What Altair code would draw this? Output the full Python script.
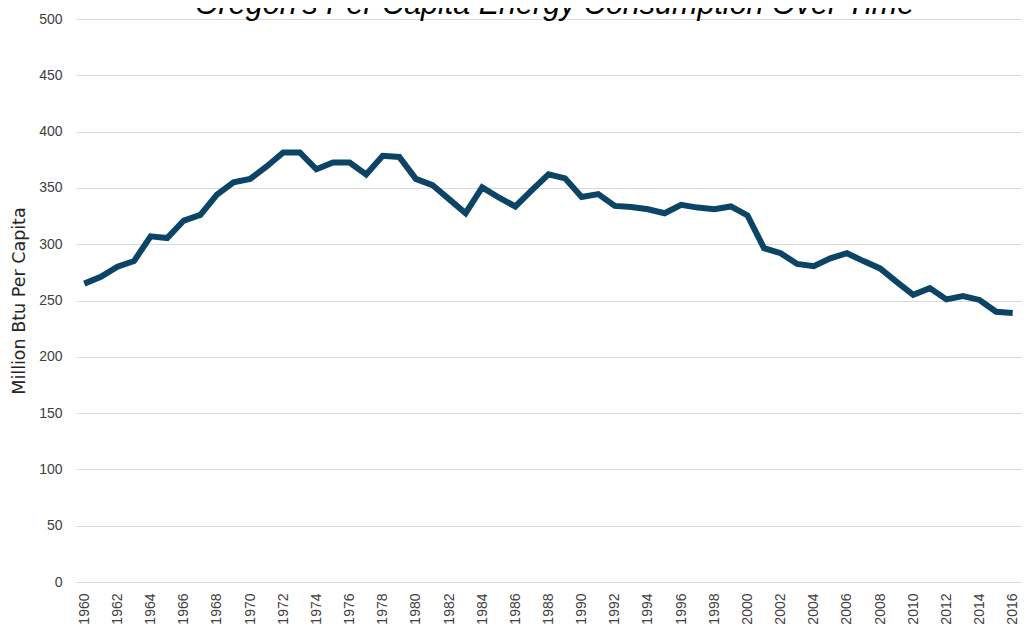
import altair as alt
import pandas as pd

years = list(range(1960, 2017))
btu = [265, 271, 280, 285, 307, 305.5, 321, 326, 344, 355,
       358, 369, 381.5, 381.5, 366.5, 372.5, 372.5, 362, 378.5, 377.5,
       358, 352.5, 340, 327.5, 350.5, 341.5, 333.5, 348, 362, 358.5,
       342, 344.5, 334, 333, 331, 327.5, 335, 332.5, 331, 333.5,
       325.5, 296.5, 292, 282.5, 280.5, 287.5, 292, 285, 278.5, 266.5,
       255, 261, 251, 254, 250.5, 240, 239]
label_years = list(range(1960, 2017, 2))
y_ticks = list(range(0, 501, 50))

df = pd.DataFrame({"year": years, "btu": btu})

chart = alt.Chart(df).mark_line(
    color="#0c4466", strokeWidth=6, strokeJoin="miter", strokeCap="butt"
).encode(
    x=alt.X("year:O", title=None,
            scale=alt.Scale(type="point", padding=0.5),
            axis=alt.Axis(values=label_years, labelAngle=270, labelAlign="right",
                          labelBaseline="middle", labelPadding=11, ticks=False,
                          domain=False, grid=False, labelFont="Liberation Sans",
                          labelFontSize=14, labelColor="#404040")),
    y=alt.Y("btu:Q", title="Million Btu Per Capita",
            scale=alt.Scale(domain=[0, 500], nice=False, zero=True),
            axis=alt.Axis(values=y_ticks, ticks=False, domain=False, grid=True,
                          gridColor="#d9d9d9", gridWidth=1, labelPadding=14,
                          labelFont="Liberation Sans", labelFontSize=14,
                          labelColor="#404040", titleFont="DejaVu Sans",
                          titleFontSize=17.5, titleFontWeight="normal",
                          titleColor="#262626", titleAngle=270,
                          titleX=-57, titleY=281.5, titleAlign="center",
                          titleBaseline="middle")),
).properties(
    width=945, height=563,
    title=alt.TitleParams("Oregon's Per Capita Energy Consumption Over Time",
                          font="Liberation Sans", fontSize=30.5, fontStyle="italic",
                          fontWeight="normal", color="#000000", anchor="middle",
                          frame="group", offset=2, dy=10, dx=6),
    padding={"left": 68, "top": 11, "right": 1, "bottom": 44},
    autosize=alt.AutoSizeParams(type="none"),
).configure_view(stroke=None)

chart.save("out.html", embed_options={"renderer": "svg", "actions": False})
